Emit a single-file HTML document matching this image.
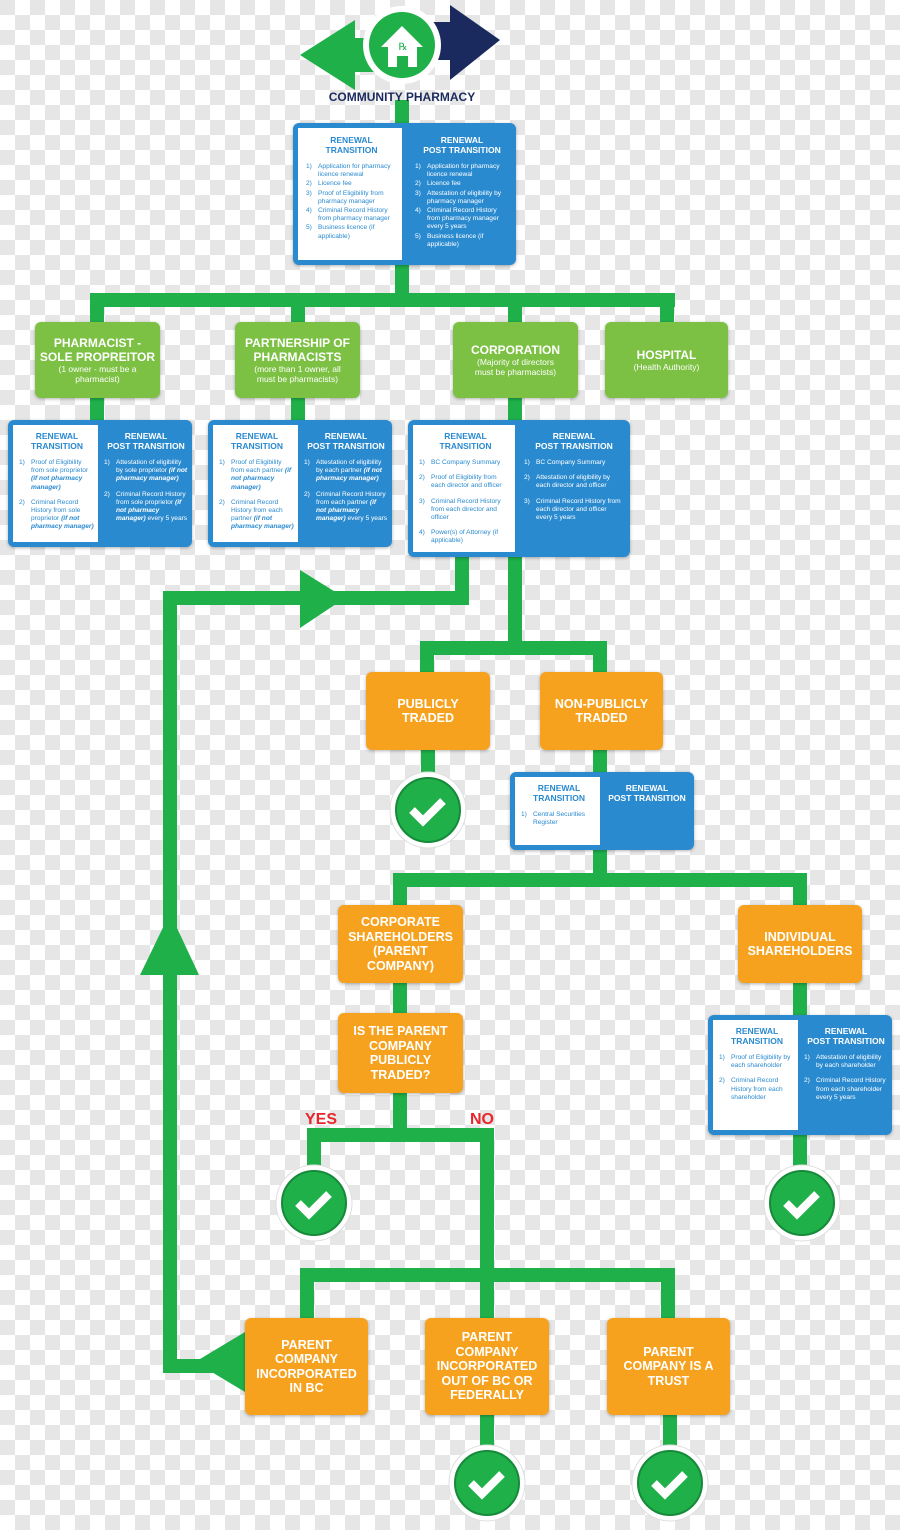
<!DOCTYPE html>
<html><head><meta charset="utf-8"><style>
*{margin:0;padding:0;box-sizing:border-box}
body{width:900px;height:1530px;position:relative;overflow:hidden;font-family:"Liberation Sans",sans-serif;
background-color:#fff;background-image:linear-gradient(45deg,#e6e6e6 25%,transparent 25%,transparent 75%,#e6e6e6 75%),linear-gradient(45deg,#e6e6e6 25%,transparent 25%,transparent 75%,#e6e6e6 75%);background-size:30px 30px;background-position:15px 0,0 15px}
svg{position:absolute;left:0;top:0}
.g,.o{position:absolute;border-radius:6px;color:#fff;text-align:center;display:flex;flex-direction:column;justify-content:center;align-items:center;box-shadow:0 1px 3px rgba(0,0,0,.3)}
.g{background:#7cc143}
.o{background:#f6a21f;font-weight:bold;font-size:12.5px;line-height:14.5px}
.g b{font-size:12px;line-height:14px}
.g span{font-size:8.5px;line-height:10px}
.bb{position:absolute;background:#2a8ad0;border-radius:6px;box-shadow:0 1px 3px rgba(0,0,0,.3)}
.w{position:absolute;background:#fff;color:#2a8ad0}
.r{position:absolute;color:#fff}
.t{font-weight:bold;font-size:8.5px;line-height:10px;text-align:center;margin:4px 0 8px}
ol{list-style:none;font-size:6.6px;line-height:8.2px}
li{position:relative;padding-left:12px;margin-bottom:1px}
li i{position:absolute;left:0;font-style:normal}
.sp li{margin-bottom:7px}
</style></head><body>
<svg width="900" height="1530">
<g stroke="#1fb04a" stroke-width="14" fill="none">
<path d="M402 100V300M90 300H675M97 300V330M298 300V330M515 300V330M667 300V330"/>
<path d="M97 395V425M298 395V425M515 395V425"/>
<path d="M462 555V598H170V1366H250"/>
<path d="M515 555V648M420 648H607M427 648V680M600 648V680M428 748V780M600 748V780"/>
<path d="M600 848V880M393 880H807M400 880V910M800 880V910M400 980V1020M400 1090V1135M307 1135H494M314 1135V1170M487 1135V1275M300 1275H675M307 1275V1325M487 1275V1325M668 1275V1325M487 1410V1450M670 1410V1450M800 980V1020M800 1130V1170"/>
</g>
<g fill="#1fb04a">
<polygon points="300,570 345,598 300,628"/>
<polygon points="140,975 170,913 199,975"/>
<polygon points="245,1332 195,1362 245,1392"/>
<polygon points="300,55 355,20 355,38 380,38 380,72 355,72 355,90"/>
</g>
<polygon points="425,22 450,22 450,5 500,40 450,80 450,60 425,60" fill="#1b2a5e"/>
<circle cx="402" cy="45" r="39" fill="#fff"/><circle cx="402" cy="45" r="33" fill="#1fb04a"/>
<polygon points="381,47 402,26 423,47 417,47 417,67 408,67 408,56 397,56 397,67 388,67 388,47" fill="#fff"/>
<text x="403" y="50" font-size="10" fill="#1fb04a" font-family="Liberation Serif" text-anchor="middle">℞</text>
<text x="402" y="101" font-size="12" font-weight="bold" fill="#1b2a5e" text-anchor="middle" font-family="Liberation Sans">COMMUNITY PHARMACY</text>
<g font-family="Liberation Sans" font-weight="bold" font-size="16" fill="#e8262b">
<text x="305" y="1124">YES</text><text x="470" y="1124">NO</text></g>
<g id="c">
<circle cx="428" cy="810" r="38" fill="#fff" stroke="#ddd"/><circle cx="428" cy="810" r="32" fill="#1fb04a" stroke="#178a3a" stroke-width="2"/>
<path d="M412 810l11 11 20-20" stroke="#fff" stroke-width="8" fill="none"/></g>
<use href="#c" x="-114" y="393"/><use href="#c" x="374" y="393"/><use href="#c" x="59" y="673"/><use href="#c" x="242" y="673"/>
</svg>

<div class="bb" style="left:293px;top:123px;width:223px;height:142px">
<div class="w" style="left:5px;top:5px;width:104px;height:132px;padding:3px 5px 0 8px"><div class="t">RENEWAL<br>TRANSITION</div>
<ol><li><i>1)</i>Application for pharmacy licence renewal</li><li><i>2)</i>Licence fee</li><li><i>3)</i>Proof of Eligibility from pharmacy manager</li><li><i>4)</i>Criminal Record History from pharmacy manager</li><li><i>5)</i>Business licence (if applicable)</li></ol></div>
<div class="r" style="left:114px;top:5px;width:106px;padding:3px 4px 0 8px"><div class="t">RENEWAL<br>POST TRANSITION</div>
<ol><li><i>1)</i>Application for pharmacy licence renewal</li><li><i>2)</i>Licence fee</li><li><i>3)</i>Attestation of eligibility by pharmacy manager</li><li><i>4)</i>Criminal Record History from pharmacy manager every 5 years</li><li><i>5)</i>Business licence (if applicable)</li></ol></div></div>

<div class="g" style="left:35px;top:322px;width:125px;height:76px"><b>PHARMACIST -<br>SOLE PROPREITOR</b><span>(1 owner - must be a<br>pharmacist)</span></div>
<div class="g" style="left:235px;top:322px;width:125px;height:76px"><b>PARTNERSHIP OF<br>PHARMACISTS</b><span>(more than 1 owner, all<br>must be pharmacists)</span></div>
<div class="g" style="left:453px;top:322px;width:125px;height:76px"><b>CORPORATION</b><span>(Majority of directors<br>must be pharmacists)</span></div>
<div class="g" style="left:605px;top:322px;width:123px;height:76px"><b>HOSPITAL</b><span>(Health Authority)</span></div>

<div class="bb" style="left:8px;top:420px;width:184px;height:127px">
<div class="w sp" style="left:5px;top:5px;width:85px;height:117px;padding:2px 3px 0 6px"><div class="t">RENEWAL<br>TRANSITION</div>
<ol><li><i>1)</i>Proof of Eligibility from sole proprietor <b><em>(if not pharmacy manager)</em></b></li><li><i>2)</i>Criminal Record History from sole proprietor <b><em>(if not pharmacy manager)</em></b></li></ol></div>
<div class="r sp" style="left:92px;top:5px;width:90px;padding:2px 2px 0 4px"><div class="t">RENEWAL<br>POST TRANSITION</div>
<ol><li><i>1)</i>Attestation of eligibility by sole proprietor <b><em>(if not pharmacy manager)</em></b></li><li><i>2)</i>Criminal Record History from sole proprietor <b><em>(if not pharmacy manager)</em></b> every 5 years</li></ol></div></div>

<div class="bb" style="left:208px;top:420px;width:184px;height:127px">
<div class="w sp" style="left:5px;top:5px;width:85px;height:117px;padding:2px 3px 0 6px"><div class="t">RENEWAL<br>TRANSITION</div>
<ol><li><i>1)</i>Proof of Eligibility from each partner <b><em>(if not pharmacy manager)</em></b></li><li><i>2)</i>Criminal Record History from each partner <b><em>(if not pharmacy manager)</em></b></li></ol></div>
<div class="r sp" style="left:92px;top:5px;width:90px;padding:2px 2px 0 4px"><div class="t">RENEWAL<br>POST TRANSITION</div>
<ol><li><i>1)</i>Attestation of eligibility by each partner <b><em>(if not pharmacy manager)</em></b></li><li><i>2)</i>Criminal Record History from each partner <b><em>(if not pharmacy manager)</em></b> every 5 years</li></ol></div></div>

<div class="bb" style="left:408px;top:420px;width:222px;height:137px">
<div class="w sp" style="left:5px;top:5px;width:102px;height:127px;padding:2px 3px 0 6px"><div class="t">RENEWAL<br>TRANSITION</div>
<ol><li><i>1)</i>BC Company Summary</li><li><i>2)</i>Proof of Eligibility from each director and officer</li><li><i>3)</i>Criminal Record History from each director and officer</li><li><i>4)</i>Power(s) of Attorney (if applicable)</li></ol></div>
<div class="r sp" style="left:110px;top:5px;width:108px;padding:2px 2px 0 6px"><div class="t">RENEWAL<br>POST TRANSITION</div>
<ol><li><i>1)</i>BC Company Summary</li><li><i>2)</i>Attestation of eligibility by each director and officer</li><li><i>3)</i>Criminal Record History from each director and officer every 5 years</li></ol></div></div>

<div class="o" style="left:366px;top:672px;width:124px;height:78px">PUBLICLY<br>TRADED</div>
<div class="o" style="left:540px;top:672px;width:123px;height:78px">NON-PUBLICLY<br>TRADED</div>

<div class="bb" style="left:510px;top:772px;width:184px;height:78px">
<div class="w" style="left:5px;top:5px;width:85px;height:68px;padding:2px 3px 0 6px"><div class="t">RENEWAL<br>TRANSITION</div>
<ol><li><i>1)</i>Central Securities Register</li></ol></div>
<div class="r" style="left:92px;top:5px;width:90px;padding:2px 2px 0 2px"><div class="t">RENEWAL<br>POST TRANSITION</div></div></div>

<div class="o" style="left:338px;top:905px;width:125px;height:78px">CORPORATE<br>SHAREHOLDERS<br>(PARENT<br>COMPANY)</div>
<div class="o" style="left:738px;top:905px;width:124px;height:78px">INDIVIDUAL<br>SHAREHOLDERS</div>
<div class="o" style="left:338px;top:1013px;width:125px;height:80px">IS THE PARENT<br>COMPANY<br>PUBLICLY<br>TRADED?</div>

<div class="bb" style="left:708px;top:1015px;width:184px;height:120px">
<div class="w sp" style="left:5px;top:5px;width:85px;height:110px;padding:2px 3px 0 6px"><div class="t">RENEWAL<br>TRANSITION</div>
<ol><li><i>1)</i>Proof of Eligibility by each shareholder</li><li><i>2)</i>Criminal Record History from each shareholder</li></ol></div>
<div class="r sp" style="left:92px;top:5px;width:90px;padding:2px 2px 0 4px"><div class="t">RENEWAL<br>POST TRANSITION</div>
<ol><li><i>1)</i>Attestation of eligibility by each shareholder</li><li><i>2)</i>Criminal Record History from each shareholder every 5 years</li></ol></div></div>

<div class="o" style="left:245px;top:1318px;width:123px;height:97px">PARENT<br>COMPANY<br>INCORPORATED<br>IN BC</div>
<div class="o" style="left:425px;top:1318px;width:124px;height:97px">PARENT<br>COMPANY<br>INCORPORATED<br>OUT OF BC OR<br>FEDERALLY</div>
<div class="o" style="left:607px;top:1318px;width:123px;height:97px">PARENT<br>COMPANY IS A<br>TRUST</div>
</body></html>
